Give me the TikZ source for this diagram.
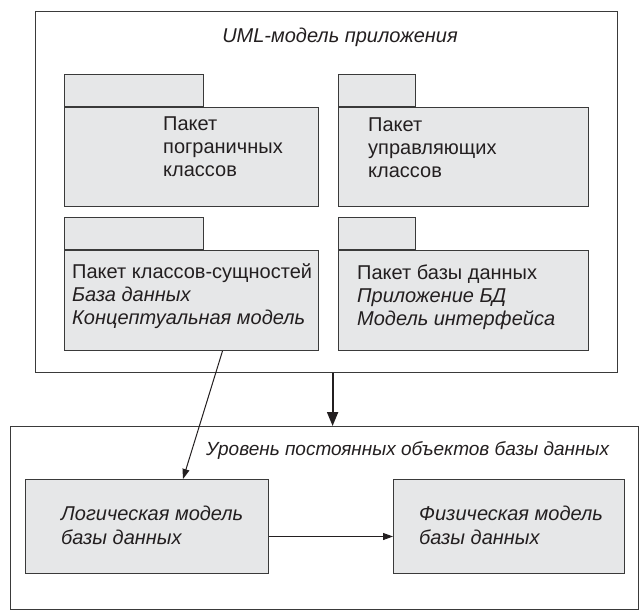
\documentclass[tikz,border=0pt]{standalone}
\usepackage{fontspec}
\setmainfont{Liberation Sans}
\usetikzlibrary{positioning,arrows.meta}
\definecolor{pkgfill}{HTML}{E6E7E8}
\definecolor{edge}{HTML}{3A3A3A}
\definecolor{ink}{HTML}{231F20}

\begin{document}
\begin{tikzpicture}[x=1pt,y=-1pt,
  boxframe/.style={draw=edge,line width=1.2pt,anchor=north west,inner sep=0pt},
  pkgbody/.style={draw=edge,fill=pkgfill,line width=1pt,anchor=north west,inner sep=0pt},
  pkgtab/.style={pkgbody,anchor=south west,minimum height=32},
  pkgtext/.style={text=ink,font=\fontsize{20}{23}\selectfont,align=left,anchor=north west,inner sep=0pt},
  boxtitle/.style={text=ink,font=\fontsize{20}{23}\selectfont\itshape,inner sep=0pt},
  bigarrow/.style={draw=ink,line width=2pt,-{Triangle[length=14pt,width=11pt]}},
  thinarrow/.style={draw=ink,line width=1pt,-{Triangle[length=10pt,width=7pt]}}]
  \useasboundingbox (0,0) rectangle (643,614);

  % UML model frame
  \node[boxframe,minimum width=582,minimum height=361] (uml) at (35,11) {};
  \node[boxtitle,anchor=base] (umltitle) at (340,42) {UML-модель приложения};

  % packages
  \node[pkgbody,minimum width=254,minimum height=99] (bnd) at (64,107) {};
  \node[pkgtab,minimum width=139] (bndtab) at (bnd.north west) {};
  \node[pkgtext] (bndtext) at (163,117) {Пакет\\пограничных\\классов};

  \node[pkgbody,minimum width=250,minimum height=99] (ctl) at (338,107) {};
  \node[pkgtab,minimum width=77] (ctltab) at (ctl.north west) {};
  \node[pkgtext] (ctltext) at (368,118) {Пакет\\управляющих\\классов};

  \node[pkgbody,minimum width=254,minimum height=100] (ent) at (64,250) {};
  \node[pkgtab,minimum width=139] (enttab) at (ent.north west) {};
  \node[pkgtext] (enttext) at (72,263) {Пакет классов-сущностей\\\itshape База данных\\\itshape Концептуальная модель};

  \node[pkgbody,minimum width=250,minimum height=100] (dbp) at (338,250) {};
  \node[pkgtab,minimum width=77] (dbptab) at (dbp.north west) {};
  \node[pkgtext] (dbptext) at (357,265) {Пакет базы данных\\\itshape Приложение БД\\\itshape Модель интерфейса};

  % persistent level
  \node[boxframe,minimum width=628,minimum height=183] (lvl) at (10,426) {};
  \node[boxtitle,font=\fontsize{19}{23}\selectfont\itshape,anchor=base west] (lvltitle) at (206,455) {Уровень постоянных объектов базы данных};

  \node[pkgbody,minimum width=243,minimum height=94] (logic) at (25,479) {};
  \node[pkgtext,font=\fontsize{20}{24}\selectfont\itshape] (logictext) at (61,506) {Логическая модель\\базы данных};

  \node[pkgbody,minimum width=231,minimum height=94] (phys) at (393,479) {};
  \node[pkgtext,font=\fontsize{20}{24}\selectfont\itshape] (phystext) at (419,506) {Физическая модель\\базы данных};

  % connectors
  \draw[bigarrow] ([xshift=6]uml.south) -- ([xshift=6]uml.south |- lvl.north);
  \draw[thinarrow] ([xshift=31]ent.south) -- ([xshift=36]logic.north);
  \draw[thinarrow] ([yshift=-10]logic.east) -- ([yshift=-10]phys.west);
\end{tikzpicture}
\end{document}
